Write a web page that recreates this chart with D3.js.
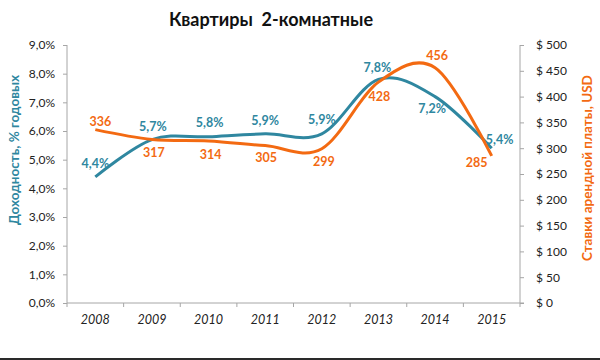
<!DOCTYPE html>
<html>
<head>
<meta charset="utf-8">
<script src="https://cdn.jsdelivr.net/npm/d3@7"></script>
<style>
  body { margin: 0; background: #fff; }
  svg { display: block; font-family: Lato, "Open Sans", sans-serif; }
</style>
</head>
<body>
<svg id="chart" width="600" height="360"></svg>
<script>
const years = ["2008", "2009", "2010", "2011", "2012", "2013", "2014", "2015"];
const yieldValues = [4.4, 5.7, 5.8, 5.9, 5.9, 7.8, 7.2, 5.4];
const rentValues = [336, 317, 314, 305, 299, 428, 456, 285];
const leftTicks = [0, 1, 2, 3, 4, 5, 6, 7, 8, 9];
const rightTicks = [0, 50, 100, 150, 200, 250, 300, 350, 400, 450, 500];

// label placement (style only)
const yieldLabelOffsets = [[0,-13],[1,-13],[1,-14],[0,-13],[0,-14],[-1,-12],[-3,12],[8,-9]];
const rentLabelOffsets = [[5,-8],[2,13],[2,14],[1,12],[2,13],[1,14],[2,-12],[-15,7]];

const blue = "#2f87a0";
const orange = "#f36a12";

const svg = d3.select("#chart");
const pLeft = 67, pRight = 520, pTop = 45, pBottom = 303;

const x = d3.scaleBand().domain(years).range([pLeft, pRight]).padding(0);
const yL = d3.scaleLinear().domain([0, 9]).range([pBottom, pTop]);
const yR = d3.scaleLinear().domain([0, 500]).range([pBottom, pTop]);
const cx = d => x(d) + x.bandwidth() / 2;

// title
svg.append("text")
  .attr("x", 271).attr("y", 26)
  .attr("text-anchor", "middle")
  .style("white-space", "pre")
  .attr("font-size", 18).attr("font-weight", "bold").attr("fill", "#111")
  .text("Квартиры  2-комнатные");

// axes
const axisColor = "#a6a6a6";
const gL = svg.append("g").attr("transform", `translate(${pLeft},0)`)
  .call(d3.axisLeft(yL).tickValues(leftTicks).tickSize(4).tickPadding(8)
    .tickFormat(d => d3.format(".1f")(d).replace(".", ",") + "%"));
const gR = svg.append("g").attr("transform", `translate(${pRight},0)`)
  .call(d3.axisRight(yR).tickValues(rightTicks).tickSize(4).tickPadding(12)
    .tickFormat(d => "$ " + d));
const gX = svg.append("g").attr("transform", `translate(0,${pBottom})`)
  .call(d3.axisBottom(x).tickSize(0).tickPadding(12));
gX.selectAll(".bnd").data(d3.range(years.length + 1)).enter().append("line")
  .attr("class", "bnd")
  .attr("x1", i => pLeft + i * x.bandwidth()).attr("x2", i => pLeft + i * x.bandwidth())
  .attr("y1", 0).attr("y2", 4);

[gL, gR, gX].forEach(g => {
  g.select(".domain").remove();
  g.selectAll("line").attr("stroke", axisColor);
  g.selectAll("text").attr("font-size", 12).attr("fill", "#222")
    .attr("font-family", "Lato, 'Open Sans', sans-serif");
});
svg.append("line").attr("x1", pLeft).attr("x2", pLeft).attr("y1", pTop).attr("y2", pBottom).attr("stroke", axisColor);
svg.append("line").attr("x1", pRight).attr("x2", pRight).attr("y1", pTop).attr("y2", pBottom).attr("stroke", axisColor);
svg.append("line").attr("x1", pLeft).attr("x2", pRight + 4).attr("y1", pBottom).attr("y2", pBottom).attr("stroke", axisColor);
gX.selectAll(".tick text").attr("font-style", "italic").attr("font-size", 12.5);
gR.selectAll(".tick text").attr("text-anchor", "start");

// axis titles
svg.append("text")
  .attr("transform", `translate(19,150) rotate(-90)`)
  .attr("text-anchor", "middle").attr("font-size", 13.5).attr("font-weight", "bold")
  .attr("fill", blue).text("Доходность, % годовых");
svg.append("text")
  .attr("transform", `translate(592,168) rotate(-90)`)
  .attr("text-anchor", "middle").attr("font-size", 13.5).attr("font-weight", "bold")
  .attr("fill", orange).text("Ставки арендной платы, USD");

// lines
const curve = d3.curveCardinal.tension(0);
const lineL = d3.line().x((d, i) => cx(years[i])).y(d => yL(d)).curve(curve);
const lineR = d3.line().x((d, i) => cx(years[i])).y(d => yR(d)).curve(curve);

svg.append("path").attr("d", lineL(yieldValues)).attr("fill", "none")
  .attr("stroke", blue).attr("stroke-width", 3);
svg.append("path").attr("d", lineR(rentValues)).attr("fill", "none")
  .attr("stroke", orange).attr("stroke-width", 3);

// data labels
svg.append("g").selectAll("text").data(yieldValues).enter().append("text")
  .attr("x", (d, i) => cx(years[i]) + yieldLabelOffsets[i][0])
  .attr("y", (d, i) => yL(d) + yieldLabelOffsets[i][1])
  .attr("dy", "0.35em").attr("text-anchor", "middle")
  .attr("font-size", 12.5).attr("font-weight", "bold").attr("fill", blue)
  .text(d => d3.format(".1f")(d).replace(".", ",") + "%");
svg.append("g").selectAll("text").data(rentValues).enter().append("text")
  .attr("x", (d, i) => cx(years[i]) + rentLabelOffsets[i][0])
  .attr("y", (d, i) => yR(d) + rentLabelOffsets[i][1])
  .attr("dy", "0.35em").attr("text-anchor", "middle")
  .attr("font-size", 12.5).attr("font-weight", "bold").attr("fill", orange)
  .text(d => d);

// bottom dark border
svg.append("rect").attr("x", 0).attr("y", 358).attr("width", 600).attr("height", 2).attr("fill", "#2a2a2a");
</script>
</body>
</html>
